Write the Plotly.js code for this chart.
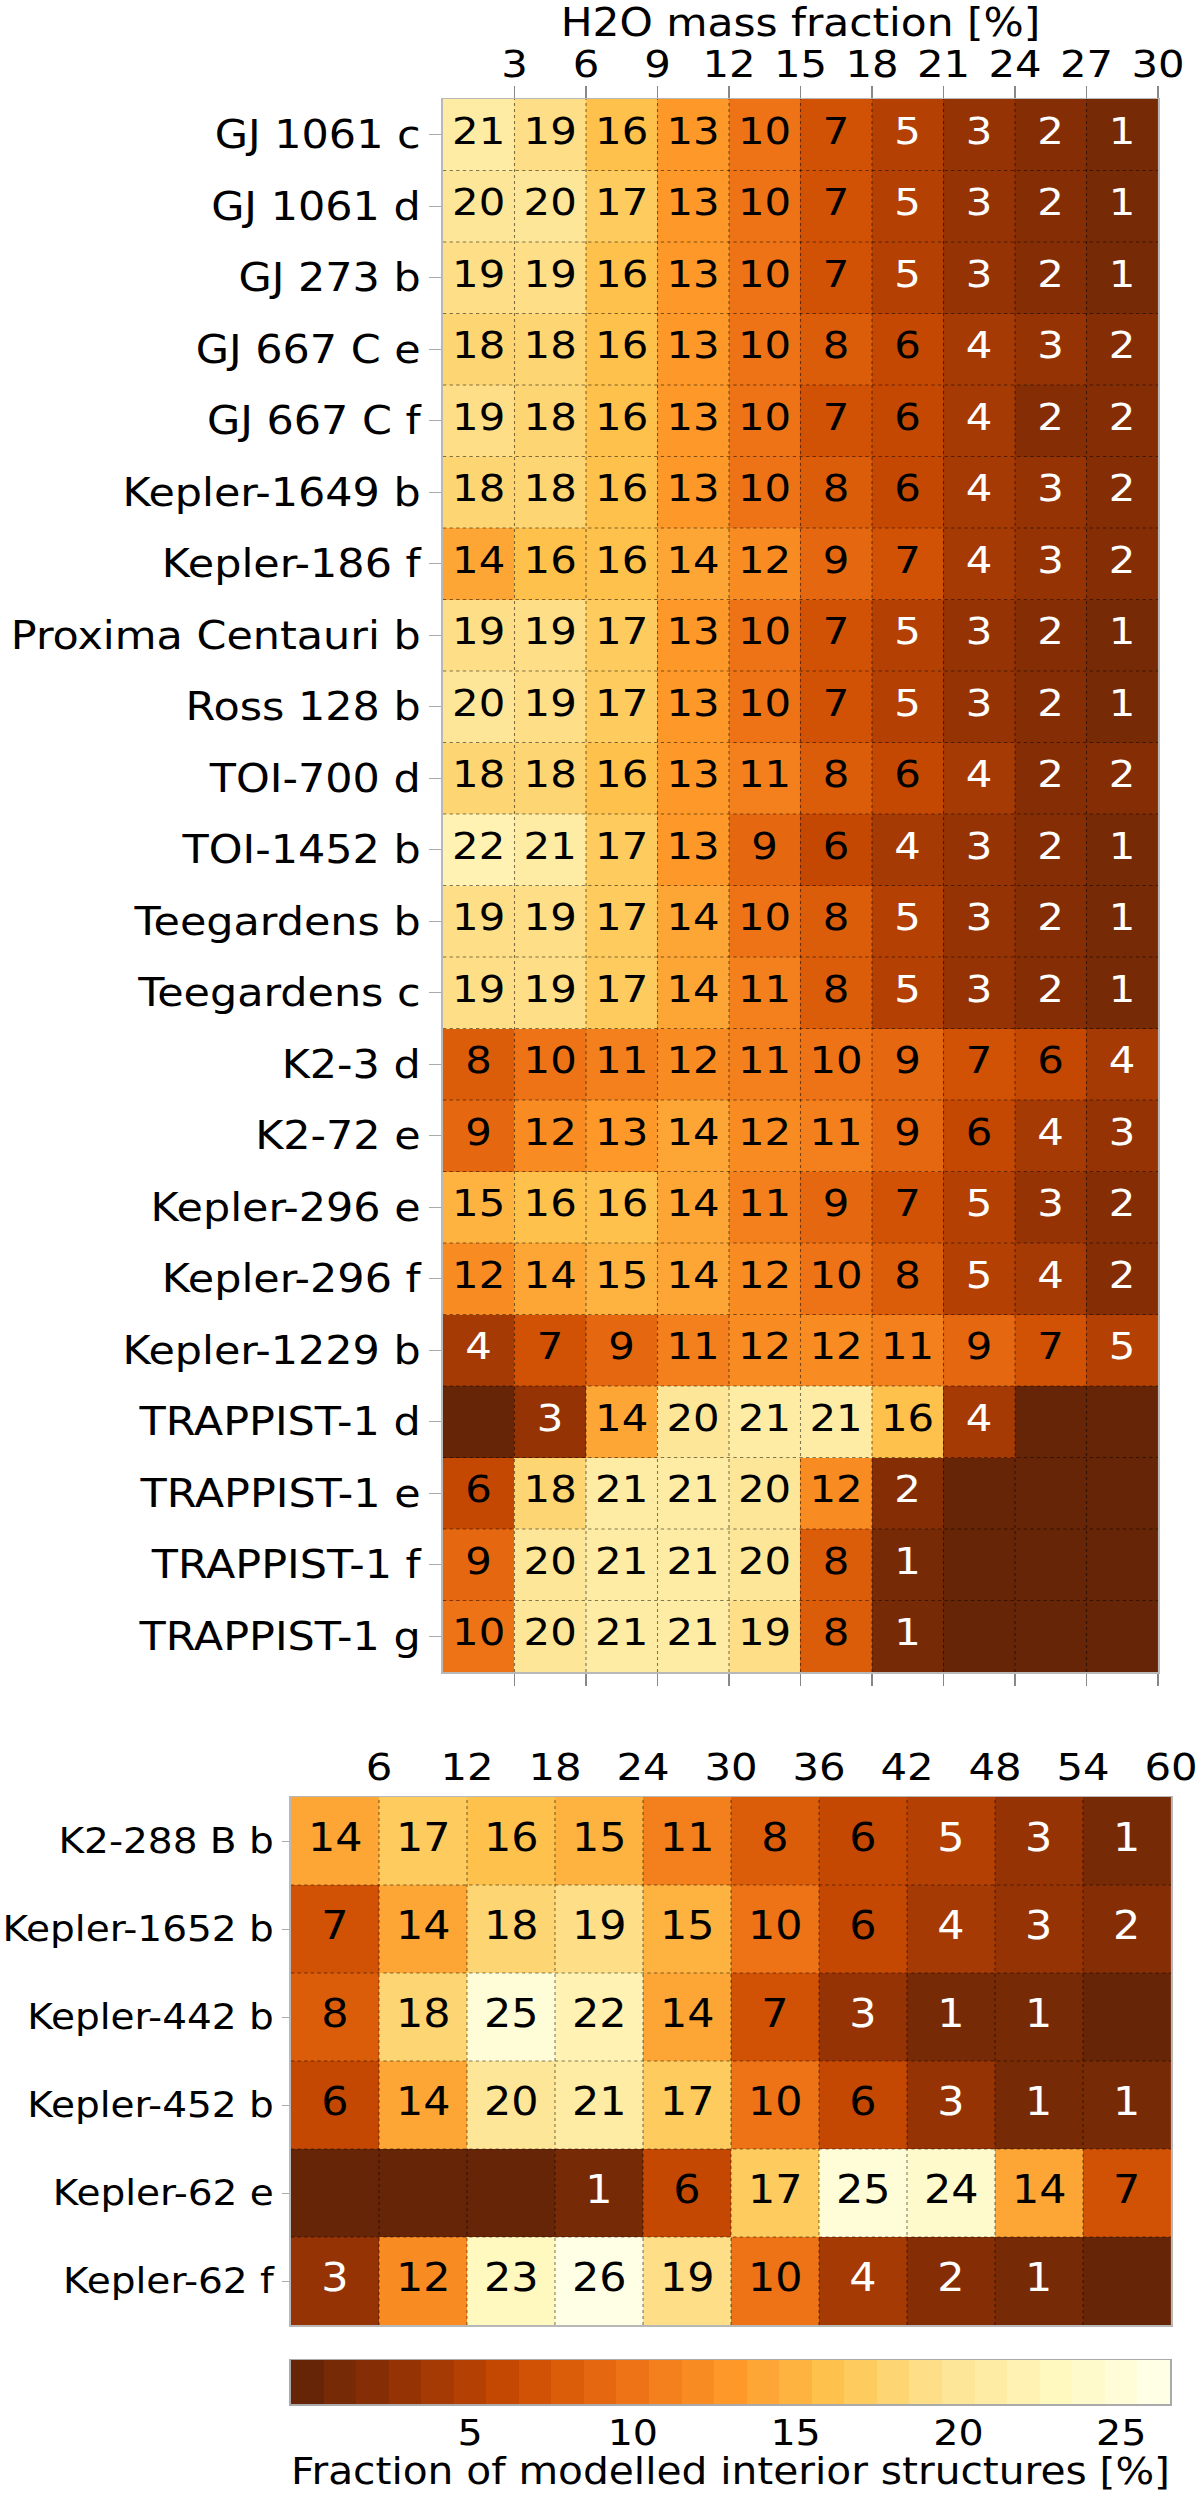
<!DOCTYPE html>
<html>
<head>
<meta charset="utf-8">
<script src="https://cdn.plot.ly/plotly-3.0.1.min.js"></script>
<style>
html,body{margin:0;padding:0;background:#fff;}
#wrap{width:1200px;height:2493px;overflow:hidden;}
#chart{height:2493px;transform-origin:0 0;}
</style>
</head>
<body>
<div id="wrap"><div id="chart"></div></div>
<script>
// ---------------- DATA ----------------
const planets1 = ["GJ 1061 c","GJ 1061 d","GJ 273 b","GJ 667 C e","GJ 667 C f","Kepler-1649 b","Kepler-186 f",
  "Proxima Centauri b","Ross 128 b","TOI-700 d","TOI-1452 b","Teegardens b","Teegardens c","K2-3 d","K2-72 e",
  "Kepler-296 e","Kepler-296 f","Kepler-1229 b","TRAPPIST-1 d","TRAPPIST-1 e","TRAPPIST-1 f","TRAPPIST-1 g"];
const waterEdges1 = [0,3,6,9,12,15,18,21,24,27,30];
const waterTicks1 = [3,6,9,12,15,18,21,24,27,30];
const fractions1 = [
  [21,19,16,13,10,7,5,3,2,1],
  [20,20,17,13,10,7,5,3,2,1],
  [19,19,16,13,10,7,5,3,2,1],
  [18,18,16,13,10,8,6,4,3,2],
  [19,18,16,13,10,7,6,4,2,2],
  [18,18,16,13,10,8,6,4,3,2],
  [14,16,16,14,12,9,7,4,3,2],
  [19,19,17,13,10,7,5,3,2,1],
  [20,19,17,13,10,7,5,3,2,1],
  [18,18,16,13,11,8,6,4,2,2],
  [22,21,17,13,9,6,4,3,2,1],
  [19,19,17,14,10,8,5,3,2,1],
  [19,19,17,14,11,8,5,3,2,1],
  [8,10,11,12,11,10,9,7,6,4],
  [9,12,13,14,12,11,9,6,4,3],
  [15,16,16,14,11,9,7,5,3,2],
  [12,14,15,14,12,10,8,5,4,2],
  [4,7,9,11,12,12,11,9,7,5],
  [0,3,14,20,21,21,16,4,0,0],
  [6,18,21,21,20,12,2,0,0,0],
  [9,20,21,21,20,8,1,0,0,0],
  [10,20,21,21,19,8,1,0,0,0]
];
const planets2 = ["K2-288 B b","Kepler-1652 b","Kepler-442 b","Kepler-452 b","Kepler-62 e","Kepler-62 f"];
const waterEdges2 = [0,6,12,18,24,30,36,42,48,54,60];
const waterTicks2 = [6,12,18,24,30,36,42,48,54,60];
const fractions2 = [
  [14,17,16,15,11,8,6,5,3,1],
  [7,14,18,19,15,10,6,4,3,2],
  [8,18,25,22,14,7,3,1,1,0],
  [6,14,20,21,17,10,6,3,1,1],
  [0,0,0,1,6,17,25,24,14,7],
  [3,12,23,26,19,10,4,2,1,0]
];
const colorLevels = [0,1,2,3,4,5,6,7,8,9,10,11,12,13,14,15,16,17,18,19,20,21,22,23,24,25,26];
const colorbarTicks = [5,10,15,20,25];
const ylorbr = ['#ffffe5','#fff7bc','#fee391','#fec44f','#fe9929','#ec7014','#cc4c02','#993404','#662506'];

// ---------------- COLORS (discrete YlOrBr reversed, one band per level) ----------------
function hex2rgb(h){return [parseInt(h.slice(1,3),16),parseInt(h.slice(3,5),16),parseInt(h.slice(5,7),16)];}
const stops = ylorbr.slice().reverse().map(hex2rgb);
function cmap(t){
  const p = t*(stops.length-1); const i = Math.min(Math.floor(p), stops.length-2); const f = p-i;
  const a = stops[i], b = stops[i+1];
  return 'rgb(' + [0,1,2].map(k=>Math.round(a[k]+(b[k]-a[k])*f)).join(',') + ')';
}
const nLevels = colorLevels.length;
const colorscale = [];
for (let i=0;i<nLevels;i++){
  const c = cmap(i/(nLevels-1));
  colorscale.push([i/nLevels, c]);
  colorscale.push([(i+1)/nLevels, c]);
}

// ---------------- GEOMETRY ----------------
const FONT = 'DejaVu Sans';
const STRETCH = 1.1;            // figure text is drawn slightly wide
const W = 1200, H = 2493;
const WP = Math.round(W/STRETCH);
const chartDiv = document.getElementById('chart');
chartDiv.style.width = WP + 'px';
chartDiv.style.transform = 'scaleX(' + (W/WP) + ')';
const F = (s)=>({family:FONT, size:s, color:'#000'});

// ---------------- TRACES ----------------
const traces = [
  {type:'heatmap', x: waterEdges1, y: planets1, z: fractions1, coloraxis:'coloraxis', xaxis:'x', yaxis:'y', hoverinfo:'skip'},
  {type:'heatmap', x: waterEdges2, y: planets2, z: fractions2, coloraxis:'coloraxis', xaxis:'x2', yaxis:'y2', hoverinfo:'skip'},
  // colour bar drawn as a one-row heatmap of the levels
  {type:'heatmap', x: colorLevels, y: [0], z: [colorLevels], coloraxis:'coloraxis', xaxis:'x3', yaxis:'y3', hoverinfo:'skip'}
];

const annotations = [];
const shapes = [];
function addCells(planets, edges, z, xr, yr, fs){
  planets.forEach((p,i)=>{
    z[i].forEach((v,j)=>{
      if (v <= 0) return;
      annotations.push({x:(edges[j]+edges[j+1])/2, y:p, xref:xr, yref:yr, text:String(v), showarrow:false,
        font:{family:FONT, size:fs, color: v <= 5 ? '#ffffff' : '#000000'}, xanchor:'center', yanchor:'middle', yshift:4});
    });
  });
  const dot = {color:'rgba(0,0,0,0.5)', width:1, dash:'dot'};
  for (let j=1;j<edges.length-1;j++){
    shapes.push({type:'line', xref:xr, yref:yr+' domain', x0:edges[j], x1:edges[j], y0:0, y1:1, line:dot});
  }
  for (let i=1;i<planets.length;i++){
    shapes.push({type:'line', xref:xr+' domain', yref:yr, x0:0, x1:1, y0:i-0.5, y1:i-0.5, line:dot});
  }
}
addCells(planets1, waterEdges1, fractions1, 'x', 'y', 38);
addCells(planets2, waterEdges2, fractions2, 'x2', 'y2', 39);

const lineCol = '#b8b8b8';
const common = {showgrid:false, zeroline:false, showline:true, linecolor:lineCol, linewidth:1.5, layer:'above traces', fixedrange:true};
const layout = {
  width:WP, height:H, margin:{l:0,r:0,t:0,b:0}, paper_bgcolor:'#fff', plot_bgcolor:'#fff', showlegend:false,
  font:F(38),
  xaxis:Object.assign({}, common, {domain:[443/W, 1158/W], anchor:'y', side:'top', range:[0,30], tickvals:waterTicks1,
    ticks:'outside', ticklen:12, tickcolor:'#888', tickwidth:1, tickfont:F(38), mirror:'ticks', ticklabelstandoff:-7,
    ticklabeloverflow:'allow', title:{text:'H2O mass fraction [%]', font:F(38.5), standoff:14}}),
  yaxis:Object.assign({}, common, {domain:[1-1672/H, 1-99/H], anchor:'x', autorange:'reversed', type:'category',
    ticks:'outside', ticklen:11, tickcolor:'#aaa', tickwidth:1, tickfont:F(39), mirror:true}),
  xaxis2:Object.assign({}, common, {domain:[291/W, 1171/W], anchor:'y2', side:'top', range:[0,60], tickvals:waterTicks2,
    ticks:'', tickfont:F(38), mirror:true, ticklabeloverflow:'allow'}),
  yaxis2:Object.assign({}, common, {domain:[1-2325/H, 1-1797/H], anchor:'x2', autorange:'reversed', type:'category',
    ticks:'outside', ticklen:7, tickcolor:'#aaa', tickwidth:1, tickfont:F(35.5), mirror:true}),
  xaxis3:Object.assign({}, common, {domain:[291/W, 1170/W], anchor:'y3', side:'bottom', range:[-0.5,26.5], tickvals:colorbarTicks,
    ticks:'', tickfont:F(36), mirror:true, linecolor:'#aaa', ticklabelstandoff:-4,
    title:{text:'Fraction of modelled interior structures [%]', font:F(37), standoff:6}}),
  yaxis3:Object.assign({}, common, {domain:[1-2404/H, 1-2360/H], anchor:'x3', range:[-0.5,0.5], showticklabels:false,
    ticks:'', mirror:true, linecolor:'#aaa'}),
  coloraxis:{cmin:-0.5, cmax:26.5, colorscale:colorscale, showscale:false},
  annotations:annotations, shapes:shapes
};
Plotly.newPlot('chart', traces, layout, {staticPlot:true, displayModeBar:false});
</script>
</body>
</html>
